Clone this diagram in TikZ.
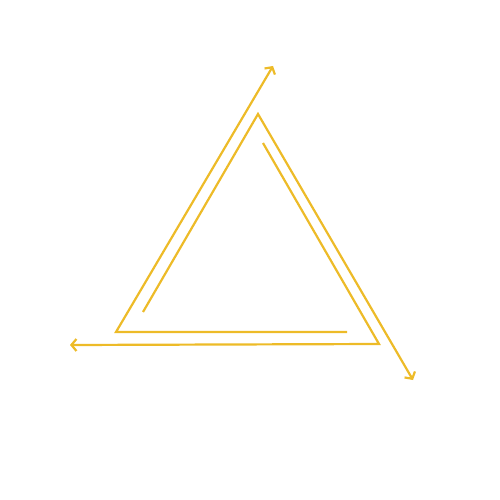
\documentclass[tikz,border=0pt]{standalone}
\usetikzlibrary{arrows.meta}
\definecolor{gold}{RGB}{237,187,40}
\begin{document}
\begin{tikzpicture}[x=1pt,y=-1pt,
  ln/.style={draw=gold,line width=2.2pt,line join=miter},
  arr/.style={ln,-{Straight Barb[length=5pt,width=12pt,line width=2.2pt]}}]
\useasboundingbox (0,0) rectangle (500,500);
\coordinate (apex) at (258,114);
\coordinate (bl) at (116,332);
\coordinate (br) at (379,344);
\coordinate (innerL) at (143,312);
\coordinate (innerR) at (263,143);
\coordinate (innerB) at (347,332);
\coordinate (tipT) at (273,66);
\coordinate (tipL) at (70,345);
\coordinate (tipR) at (413,380);
\draw[arr] (innerL) -- (apex) -- (tipR);
\draw[arr] (innerB) -- (bl) -- (tipT);
\draw[arr] (innerR) -- (br) -- (tipL);
\end{tikzpicture}
\end{document}
